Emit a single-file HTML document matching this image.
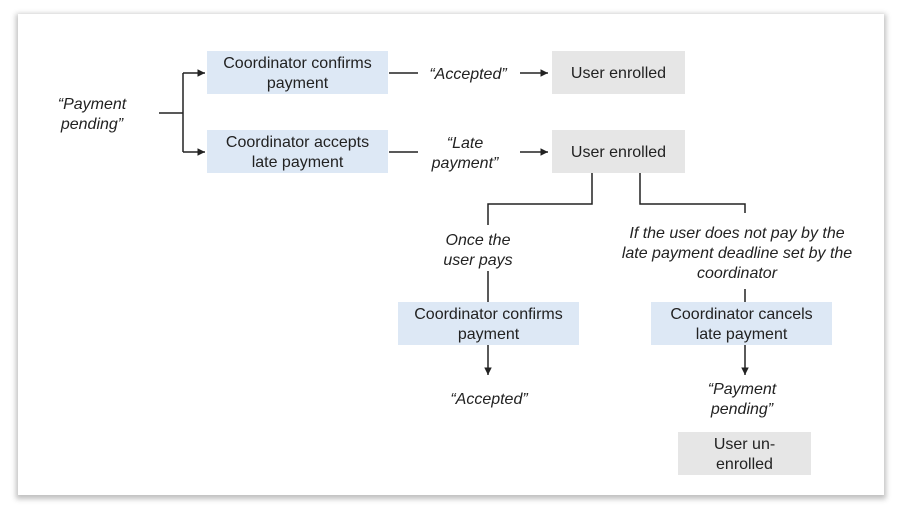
<!DOCTYPE html>
<html><head><meta charset="utf-8"><style>
body{margin:0;width:904px;height:510px;background:#fff;position:relative;overflow:hidden;font-family:"Liberation Sans",sans-serif;color:#222}
.card{position:absolute;left:18px;top:14px;width:866px;height:481px;background:#fff;box-shadow:0 2px 5px 2px rgba(0,0,0,0.25)}
.b{position:absolute;display:flex;align-items:center;justify-content:center;text-align:center;font-size:16px;line-height:20px;box-sizing:border-box;padding-top:3px}
.blue{background:#dde8f5}.gray{background:#e6e6e6}
.t{position:absolute;text-align:center;font-style:italic;font-size:16px;line-height:20px;white-space:nowrap;transform:translateX(-50%);margin-top:2px}
svg{position:absolute;left:0;top:0}
</style></head><body>
<div class="card"></div>
<svg width="904" height="510">
<defs><marker id="a" markerWidth="6" markerHeight="6" refX="5" refY="3" orient="auto"><path d="M0,0.5 L5,3 L0,5.5Z" fill="#222"/></marker></defs>
<g stroke="#222" stroke-width="1.5" fill="none">
<path d="M159 113H183M183 73V152"/>
<path d="M183 73H205" marker-end="url(#a)"/>
<path d="M183 152H205" marker-end="url(#a)"/>
<path d="M389 73H418M389 152H418"/>
<path d="M520 73H548" marker-end="url(#a)"/>
<path d="M520 152H548" marker-end="url(#a)"/>
<path d="M592 173V204H488V225M488 271V302"/>
<path d="M640 173V204H745V213M745 289V302"/>
<path d="M488 345V375" marker-end="url(#a)"/>
<path d="M745 345V375" marker-end="url(#a)"/>
</g></svg>
<div class="b blue" style="left:207px;top:51px;width:181px;height:43px">Coordinator confirms<br>payment</div>
<div class="b blue" style="left:207px;top:130px;width:181px;height:43px">Coordinator accepts<br>late payment</div>
<div class="b gray" style="left:552px;top:51px;width:133px;height:43px">User enrolled</div>
<div class="b gray" style="left:552px;top:130px;width:133px;height:43px">User enrolled</div>
<div class="b blue" style="left:398px;top:302px;width:181px;height:43px">Coordinator confirms<br>payment</div>
<div class="b blue" style="left:651px;top:302px;width:181px;height:43px">Coordinator cancels<br>late payment</div>
<div class="b gray" style="left:678px;top:432px;width:133px;height:43px">User un-<br>enrolled</div>
<div class="t" style="left:92px;top:93px">“Payment<br>pending”</div>
<div class="t" style="left:468px;top:63px">“Accepted”</div>
<div class="t" style="left:465px;top:132px">“Late<br>payment”</div>
<div class="t" style="left:478px;top:229px">Once the<br>user pays</div>
<div class="t" style="left:737px;top:222px">If the user does not pay by the<br>late payment deadline set by the<br>coordinator</div>
<div class="t" style="left:489px;top:388px">“Accepted”</div>
<div class="t" style="left:742px;top:378px">“Payment<br>pending”</div>
</body></html>
